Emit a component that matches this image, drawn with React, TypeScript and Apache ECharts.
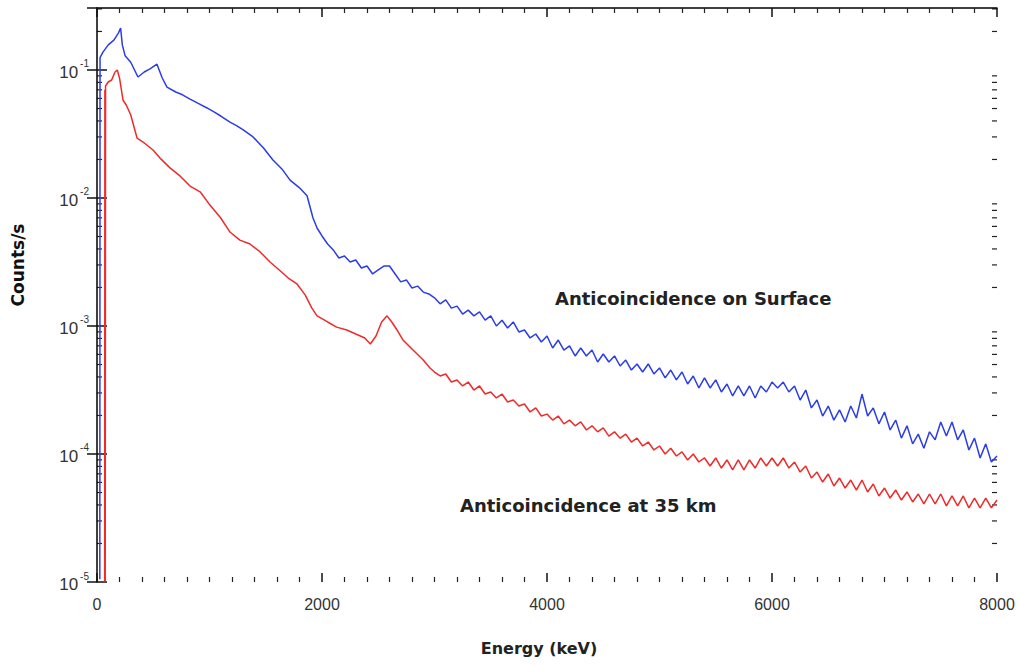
import React, { useEffect, useRef } from 'react';
import * as echarts from 'echarts';

// ---------- data ----------
// Surface spectrum, low-energy part: [energy keV, counts/s]
const surfaceLow: [number, number][] = [
  [25, 1.05e-5], [27, 0.125], [53, 0.138], [100, 0.157], [150, 0.171], [190, 0.194],
  [210, 0.213], [225, 0.157], [250, 0.129], [300, 0.115], [364, 0.0882], [420, 0.0965],
  [471, 0.102], [533, 0.111], [580, 0.0866], [622, 0.0736], [700, 0.0673], [760, 0.0640],
  [827, 0.0593], [900, 0.0548], [978, 0.0505], [1040, 0.0470], [1100, 0.0437], [1182, 0.0392],
  [1240, 0.0368], [1300, 0.034], [1387, 0.030], [1480, 0.0246], [1564, 0.0198], [1650, 0.0166],
  [1716, 0.0138], [1800, 0.012], [1867, 0.0104], [1920, 0.00698], [1956, 0.00583]
];
// Surface spectrum, 2000 .. 8000 keV in 50 keV steps
const surfaceHighStart = 2000;
const surfaceHighStep = 50;
const surfaceHigh: number[] = [
  5.05e-3, 4.37e-3, 3.93e-3, 3.40e-3, 3.52e-3, 3.16e-3, 3.28e-3, 2.84e-3, 2.94e-3, 2.55e-3,
  2.74e-3, 2.94e-3, 2.94e-3, 2.55e-3, 2.21e-3, 2.29e-3, 1.98e-3, 2.05e-3, 1.84e-3, 1.78e-3,
  1.66e-3, 1.49e-3, 1.60e-3, 1.38e-3, 1.43e-3, 1.24e-3, 1.33e-3, 1.20e-3, 1.29e-3, 1.11e-3,
  1.20e-3, 1.00e-3, 1.11e-3, 9.65e-4, 1.075e-3, 8.98e-4, 9.31e-4, 8.06e-4, 8.66e-4, 7.50e-4,
  8.35e-4, 6.73e-4, 7.77e-4, 6.49e-4, 6.98e-4, 5.83e-4, 6.73e-4, 5.83e-4, 6.49e-4, 5.23e-4,
  6.04e-4, 5.23e-4, 5.83e-4, 4.87e-4, 5.42e-4, 4.53e-4, 5.05e-4, 4.37e-4, 5.05e-4, 4.22e-4,
  4.70e-4, 3.93e-4, 4.53e-4, 3.79e-4, 4.37e-4, 3.52e-4, 4.07e-4, 3.28e-4, 3.93e-4, 3.28e-4,
  3.79e-4, 3.05e-4, 3.52e-4, 2.84e-4, 3.40e-4, 2.84e-4, 3.40e-4, 2.74e-4, 3.40e-4, 3.05e-4,
  3.65e-4, 3.28e-4, 3.65e-4, 3.05e-4, 3.40e-4, 2.64e-4, 3.16e-4, 2.29e-4, 2.64e-4, 1.98e-4,
  2.37e-4, 1.84e-4, 2.21e-4, 1.78e-4, 2.37e-4, 1.91e-4, 2.94e-4, 1.98e-4, 2.29e-4, 1.72e-4,
  2.13e-4, 1.54e-4, 1.84e-4, 1.33e-4, 1.66e-4, 1.20e-4, 1.43e-4, 1.11e-4, 1.49e-4, 1.29e-4,
  1.78e-4, 1.38e-4, 1.78e-4, 1.29e-4, 1.54e-4, 1.075e-4, 1.33e-4, 9.31e-5, 1.20e-4, 8.66e-5,
  9.65e-5
];

// 35 km spectrum, low-energy part: [energy keV, counts/s]
const balloonLow: [number, number][] = [
  [68, 1.01e-5], [70, 0.07], [73, 1.01e-5], [76, 0.075], [100, 0.0806], [130, 0.0835],
  [160, 0.0965], [180, 0.1], [200, 0.0866], [231, 0.0583], [260, 0.0533], [300, 0.0445],
  [356, 0.0294], [420, 0.0269], [498, 0.0237], [560, 0.0205], [649, 0.0172], [740, 0.0148],
  [827, 0.0124], [920, 0.0111], [1004, 0.0088], [1100, 0.00698], [1182, 0.00542], [1270, 0.00469],
  [1360, 0.00437], [1450, 0.00379], [1538, 0.00316], [1620, 0.00274], [1700, 0.00237],
  [1778, 0.00213], [1850, 0.00175], [1910, 0.00138], [1956, 0.0012], [2050, 0.001075],
  [2130, 0.00098], [2220, 9.31e-4], [2300, 8.66e-4], [2380, 8.06e-4], [2430, 7.23e-4],
  [2480, 8.35e-4], [2530, 1.075e-3], [2578, 1.2e-3], [2620, 1.075e-3], [2667, 9.31e-4],
  [2720, 7.77e-4], [2809, 6.49e-4], [2900, 5.42e-4], [2960, 4.70e-4]
];
// 35 km spectrum, 3000 .. 8000 keV in 50 keV steps
const balloonHighStart = 3000;
const balloonHighStep = 50;
const balloonHigh: number[] = [
  4.37e-4, 4.07e-4, 4.22e-4, 3.65e-4, 3.79e-4, 3.40e-4, 3.65e-4, 3.16e-4, 3.40e-4, 2.94e-4,
  3.05e-4, 2.74e-4, 2.94e-4, 2.55e-4, 2.64e-4, 2.37e-4, 2.46e-4, 2.13e-4, 2.29e-4, 1.98e-4,
  2.05e-4, 1.84e-4, 1.98e-4, 1.72e-4, 1.84e-4, 1.66e-4, 1.78e-4, 1.54e-4, 1.66e-4, 1.49e-4,
  1.60e-4, 1.38e-4, 1.49e-4, 1.33e-4, 1.43e-4, 1.24e-4, 1.33e-4, 1.155e-4, 1.24e-4, 1.075e-4,
  1.155e-4, 1.0e-4, 1.11e-4, 9.65e-5, 1.04e-4, 8.98e-5, 1.0e-4, 8.66e-5, 9.31e-5, 8.06e-5,
  9.31e-5, 7.77e-5, 8.98e-5, 7.50e-5, 8.98e-5, 7.50e-5, 8.98e-5, 7.77e-5, 9.31e-5, 8.06e-5,
  9.31e-5, 8.06e-5, 9.31e-5, 7.77e-5, 8.66e-5, 7.23e-5, 8.06e-5, 6.49e-5, 7.23e-5, 6.04e-5,
  6.98e-5, 5.62e-5, 6.49e-5, 5.42e-5, 6.26e-5, 5.23e-5, 6.26e-5, 5.05e-5, 5.83e-5, 4.70e-5,
  5.42e-5, 4.53e-5, 5.23e-5, 4.37e-5, 5.05e-5, 4.22e-5, 4.87e-5, 4.07e-5, 4.87e-5, 4.07e-5,
  4.87e-5, 3.93e-5, 4.70e-5, 3.93e-5, 4.70e-5, 3.79e-5, 4.53e-5, 3.79e-5, 4.53e-5, 3.79e-5,
  4.37e-5
];

const xMin = 0;
const xMax = 8000;
const xInterval = 2000;
const yMin = 1e-5;
const yMax = 0.305;
const logDecades = [1e-5, 1e-4, 1e-3, 1e-2, 1e-1];
const logMinorMultipliers = [2, 3, 4, 5, 6, 7, 8, 9];

const surfaceLabel = 'Anticoincidence on Surface';
const balloonLabel = 'Anticoincidence at 35 km';
const xTitle = 'Energy (keV)';
const yTitle = 'Counts/s';

function buildSeries(low: [number, number][], start: number, step: number, high: number[]) {
  const out: [number, number][] = low.map((p) => [p[0], p[1]]);
  high.forEach((v, i) => out.push([start + i * step, v]));
  return out;
}

export default function App() {
  const ref = useRef<HTMLDivElement>(null);
  useEffect(() => {
    document.body.style.margin = '0';
    const chart = echarts.init(ref.current!, null, { renderer: 'svg' });
    const surface = buildSeries(surfaceLow, surfaceHighStart, surfaceHighStep, surfaceHigh);
    const balloon = buildSeries(balloonLow, balloonHighStart, balloonHighStep, balloonHigh);

    const xAxisCommon = {
      type: 'value',
      min: xMin,
      max: xMax,
      interval: xInterval,
      splitLine: { show: false },
      axisTick: { inside: true, length: 9, lineStyle: { color: '#111', width: 1.5 } },
      minorTick: { show: true, splitNumber: 10, length: 5, lineStyle: { color: '#222', width: 1.2 } },
    };
    const yFormatter = (v: number) => {
      const e = Math.log10(v);
      if (Math.abs(e - Math.round(e)) > 1e-6) return '';
      return '{b|10}{s|' + Math.round(e) + '}';
    };

    chart.setOption({
      animation: false,
      backgroundColor: '#ffffff',
      grid: { left: 97, right: 22, top: 8, bottom: 85, containLabel: false },
      xAxis: [
        {
          ...xAxisCommon,
          position: 'bottom',
          axisLine: { show: false },
          axisLabel: {
            color: '#333', fontSize: 16, margin: 14, fontFamily: 'Liberation Sans',
            formatter: (v: number) => String(v),
          },
        },
        {
          ...xAxisCommon,
          position: 'top',
          axisLine: { show: true, lineStyle: { color: '#000', width: 1.5 } },
          axisLabel: { show: false },
        },
      ],
      yAxis: [
        {
          type: 'log',
          logBase: 10,
          min: yMin,
          max: yMax,
          position: 'left',
          splitLine: { show: false },
          axisLine: { show: true, lineStyle: { color: '#000', width: 1.5 } },
          axisTick: { inside: true, length: 10, lineStyle: { color: '#111', width: 1.5 } },
          axisLabel: {
            formatter: yFormatter,
            showMaxLabel: false,
            margin: 8,
            color: '#333',
            fontFamily: 'Liberation Sans',
            rich: {
              b: { fontSize: 17, lineHeight: 22, color: '#333', fontFamily: 'Liberation Sans', verticalAlign: 'bottom' },
              s: { fontSize: 10, lineHeight: 22, color: '#333', fontFamily: 'Liberation Sans', verticalAlign: 'top', padding: [0, 0, 0, 2] },
            },
          },
        },
        {
          type: 'log',
          logBase: 10,
          min: yMin,
          max: yMax,
          position: 'right',
          splitLine: { show: false },
          axisLine: { show: false },
          axisTick: { inside: true, length: 10, lineStyle: { color: '#111', width: 1.5 } },
          axisLabel: { show: false },
        },
      ],
      series: [
        {
          name: 'surface',
          type: 'line',
          data: surface,
          showSymbol: false,
          symbol: 'none',
          lineStyle: { color: '#2a3de6', width: 1.5 },
          z: 3,
        },
        {
          name: 'balloon',
          type: 'line',
          data: balloon,
          showSymbol: false,
          symbol: 'none',
          lineStyle: { color: '#ee2b2b', width: 1.5 },
          z: 2,
        },
      ],
    });

    const leftX = chart.convertToPixel({ xAxisIndex: 0 }, xMin) as number;
    const rightX = chart.convertToPixel({ xAxisIndex: 0 }, xMax) as number;
    const topY = chart.convertToPixel({ yAxisIndex: 0 }, yMax) as number;
    const bottomY = chart.convertToPixel({ yAxisIndex: 0 }, yMin) as number;
    const graphics: any[] = [];
    logDecades.forEach((d) => {
      logMinorMultipliers.forEach((m) => {
        const v = d * m;
        if (v >= yMax) return;
        const y = chart.convertToPixel({ yAxisIndex: 0 }, v) as number;
        graphics.push({ type: 'line', shape: { x1: leftX, y1: y, x2: leftX + 5, y2: y }, style: { stroke: '#222', lineWidth: 1.2 }, silent: true });
        graphics.push({ type: 'line', shape: { x1: rightX, y1: y, x2: rightX - 5, y2: y }, style: { stroke: '#222', lineWidth: 1.2 }, silent: true });
      });
    });
    const midX = (leftX + rightX) / 2;
    const midY = (topY + bottomY) / 2;
    graphics.push({
      type: 'text', x: 555, y: 298,
      style: { text: surfaceLabel, font: 'bold 18px "DejaVu Sans"', fill: '#222', align: 'left', verticalAlign: 'middle' },
    });
    graphics.push({
      type: 'text', x: 460, y: 505,
      style: { text: balloonLabel, font: 'bold 18px "DejaVu Sans"', fill: '#222', align: 'left', verticalAlign: 'middle' },
    });
    graphics.push({
      type: 'text', x: midX - 8, y: 648,
      style: { text: xTitle, font: 'bold 16px "DejaVu Sans"', fill: '#222', align: 'center', verticalAlign: 'middle' },
    });
    graphics.push({
      type: 'text', x: 18, y: midY - 30, rotation: Math.PI / 2,
      style: { text: yTitle, font: 'bold 17px "DejaVu Sans"', fill: '#111', align: 'center', verticalAlign: 'middle' },
    });
    chart.setOption({ graphic: graphics });

    return () => chart.dispose();
  }, []);
  return <div ref={ref} style={{ width: 1019, height: 667 }} />;
}
